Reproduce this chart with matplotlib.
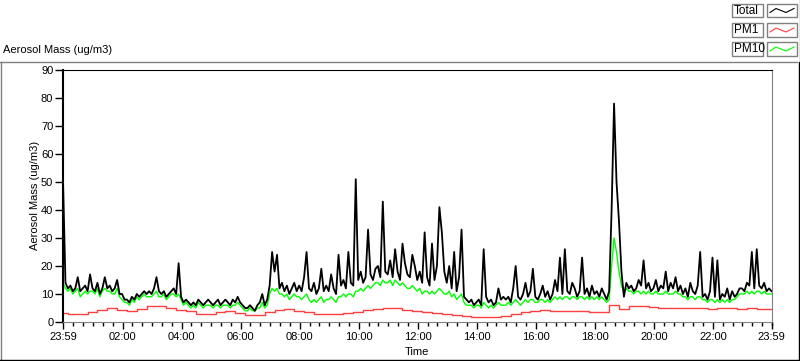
import numpy as np
import matplotlib
matplotlib.use("Agg")
import matplotlib.pyplot as plt
from matplotlib.lines import Line2D
from matplotlib.patches import Rectangle

plt.rcParams['font.family'] = ['Liberation Sans', 'DejaVu Sans']

# ---------------- data (ug/m3), Total & PM10 every 5 min from 23:59 ----------------
total = [
    51, 14, 12, 13, 11, 12, 16, 11, 12, 13, 11, 17,
    12, 11, 14, 10, 12, 16, 12, 13, 11, 12, 15, 10,
    10, 8, 8, 7, 9, 8, 10, 9, 10, 11, 10, 11,
    10, 12, 16, 11, 10, 11, 9, 10, 11, 12, 10, 21,
    9, 7, 8, 7, 6, 7, 6, 8, 7, 6, 7, 8,
    7, 6, 7, 8, 6, 7, 8, 7, 6, 8, 7, 9,
    7, 6, 5, 5, 6, 5, 4, 6, 7, 10, 6, 8,
    13, 25, 18, 24, 12, 14, 11, 13, 10, 12, 14, 11,
    13, 11, 16, 25, 12, 11, 14, 10, 12, 19, 11, 13,
    11, 17, 12, 10, 24, 13, 15, 12, 25, 14, 13, 51,
    15, 18, 14, 16, 33, 17, 15, 19, 20, 16, 43, 18,
    17, 22, 16, 26, 18, 15, 28, 21, 17, 16, 24, 20,
    15, 18, 14, 32, 16, 13, 28, 15, 20, 41, 32, 18,
    14, 20, 12, 25, 11, 16, 33, 9, 8, 7, 8, 6,
    7, 8, 6, 26, 9, 7, 8, 6, 7, 12, 8, 9,
    8, 9, 7, 12, 20, 9, 8, 10, 14, 9, 11, 19,
    9, 8, 10, 13, 9, 11, 8, 10, 15, 11, 23, 10,
    26, 11, 10, 14, 12, 9, 11, 23, 10, 12, 9, 13,
    10, 11, 9, 12, 10, 8, 11, 40, 78, 50, 36, 18,
    9, 14, 12, 13, 11, 12, 15, 13, 22, 12, 14, 11,
    12, 15, 11, 13, 12, 18, 11, 14, 12, 16, 11, 13,
    10, 12, 9, 14, 11, 10, 13, 25, 9, 10, 8, 11,
    23, 9, 22, 8, 10, 9, 12, 8, 11, 9, 10, 12,
    12, 11, 14, 13, 25, 12, 26, 13, 12, 14, 11, 12, 11,
]

pm10 = [
    14, 12, 11, 12, 10, 11, 12, 9, 10, 11, 10, 11,
    11, 10, 12, 9, 11, 12, 11, 11, 10, 10, 12, 9,
    8, 7, 7, 6, 8, 7, 9, 8, 9, 10, 9, 9,
    9, 10, 11, 9, 9, 10, 8, 9, 10, 10, 9, 10,
    8, 6, 7, 6, 5, 6, 5, 7, 6, 5, 6, 6,
    6, 5, 6, 6, 5, 6, 6, 6, 5, 6, 6, 7,
    6, 5, 4, 4, 5, 4, 4, 5, 5, 7, 5, 6,
    10, 12, 11, 12, 10, 10, 9, 10, 8, 9, 10, 9,
    9, 8, 9, 10, 8, 7, 8, 7, 8, 9, 7, 8,
    8, 9, 8, 7, 9, 9, 10, 9, 10, 10, 9, 11,
    11, 12, 11, 12, 13, 12, 13, 14, 14, 13, 15, 14,
    14, 15, 13, 15, 14, 13, 14, 13, 12, 12, 13, 12,
    11, 12, 10, 11, 11, 10, 11, 10, 11, 12, 11, 10,
    10, 11, 9, 10, 8, 9, 10, 7, 6, 6, 6, 5,
    6, 6, 5, 7, 6, 5, 6, 5, 6, 7, 6, 6,
    6, 7, 6, 7, 8, 7, 6, 7, 8, 7, 8, 8,
    7, 7, 8, 8, 7, 8, 7, 8, 9, 8, 9, 8,
    9, 9, 8, 9, 9, 8, 9, 9, 8, 9, 8, 9,
    8, 9, 8, 9, 8, 7, 8, 20, 30, 25, 18, 13,
    11, 12, 11, 11, 10, 11, 11, 10, 11, 10, 11, 10,
    10, 11, 10, 10, 10, 11, 10, 10, 10, 11, 10, 10,
    9, 9, 8, 9, 9, 8, 9, 9, 8, 8, 7, 8,
    8, 7, 8, 7, 8, 7, 8, 7, 8, 8, 9, 10,
    10, 10, 11, 10, 11, 10, 11, 11, 10, 11, 10, 10, 10,
]

# PM1 every 20 min from 23:59
pm1 = [
    3.2, 3.0, 2.8, 3.5, 4.4, 5.0, 4.2, 3.8, 4.6, 5.6, 5.6, 5.0,
    4.4, 3.8, 3.0, 3.0, 3.6, 3.9, 3.3, 2.5, 2.6, 3.4, 4.2, 4.5,
    4.0, 3.6, 3.0, 2.7, 2.8, 3.1, 3.5, 4.2, 4.8, 5.1, 4.9, 4.4,
    3.9, 3.4, 3.2, 3.0, 2.6, 2.0, 1.9, 1.9, 1.9, 2.3, 2.9, 3.4,
    3.9, 4.3, 4.1, 4.0, 3.9, 3.8, 3.7, 3.5, 6.0, 4.5, 5.7, 5.6,
    5.3, 5.0, 4.9, 4.9, 4.9, 5.0, 4.8, 4.9, 4.9, 4.8, 4.9, 4.8, 4.8,
]

x_ticklabels = ["23:59", "02:00", "04:00", "06:00", "08:00", "10:00", "12:00",
                "14:00", "16:00", "18:00", "20:00", "22:00", "23:59"]
y_ticks = [0, 10, 20, 30, 40, 50, 60, 70, 80, 90]
legend_names = ["Total", "PM1", "PM10"]
colors = ["#000000", "#ff4040", "#00ff00"]

t0, t1 = -1 / 60, 24 - 1 / 60
t_fast = np.linspace(t0, t1, len(total))
t_slow = np.linspace(t0, t1, len(pm1))

W, H = 800, 361
fig = plt.figure(figsize=(W / 100, H / 100), dpi=100)
ax = fig.add_axes([63 / W, (H - 322) / H, (772 - 63) / W, (322 - 70) / H])

ax.plot(t_fast, pm10, color=colors[2], lw=1.0)
ax.plot(t_fast, total, color=colors[0], lw=1.3)
ax.plot(t_slow, pm1, color=colors[1], lw=1.0, drawstyle='steps-mid')

ax.set_xlim(t0, t1)
ax.set_ylim(0, 90)
ax.set_yticks(y_ticks)
xt = [t0] + list(range(2, 24, 2)) + [t1]
ax.set_xticks(xt)
ax.set_xticklabels(x_ticklabels)
ax.set_xticks(np.arange(1 / 3, 24, 1 / 3), minor=True)
ax.tick_params(axis='x', which='major', length=5, width=1, direction='out', labelsize=8, pad=2)
ax.tick_params(axis='x', which='minor', length=3, width=1, direction='out')
ax.tick_params(axis='y', which='major', length=6, width=1, direction='out', labelsize=8, pad=1)

for s in ['top', 'left']:
    ax.spines[s].set_color('black')
ax.spines['left'].set_linewidth(1.5)
for s in ['right', 'bottom']:
    ax.spines[s].set_color('#808080')

fig.text(35 / W, 1 - 195 / H, "Aerosol Mass (ug/m3)", rotation=90, ha='center', va='center', fontsize=8)
fig.text(417 / W, 1 - 352 / H, "Time", ha='center', va='center', fontsize=8)
fig.text(3 / W, 1 - 50 / H, "Aerosol Mass (ug/m3)", ha='left', va='center', fontsize=8)

# panel frame
def fl(xs, ys, c, lw=1.0):
    fig.add_artist(Line2D([x / W for x in xs], [1 - y / H for y in ys], color=c, lw=lw))

fl([0, 797], [62, 62], '#808080')
fl([0.5, 0.5], [62, 359], '#808080')
fl([0, 799], [359.5, 359.5], 'black')
fl([798.5, 798.5], [62, 360], 'black')
fl([799.5, 799.5], [0, 62], '#808080')

# legend
rows = [(4, 17), (23, 37), (42, 56)]
for (y0, y1), name, c in zip(rows, legend_names, colors):
    fig.add_artist(Rectangle((732 / W, 1 - y1 / H), (763 - 732) / W, (y1 - y0) / H,
                             fill=False, edgecolor='#808080', lw=1))
    fig.add_artist(Rectangle((767 / W, 1 - y1 / H), (797 - 767) / W, (y1 - y0) / H,
                             fill=False, edgecolor='#808080', lw=1))
    fig.text(734 / W, 1 - (y0 + y1) / 2 / H, name, ha='left', va='center', fontsize=8.5)
    ym = (y0 + y1) / 2
    fl([770, 776, 781, 786, 794], [ym + 2, ym - 2, ym, ym + 2, ym - 2], c, lw=0.8)

fig.savefig("out.png", dpi=100)
